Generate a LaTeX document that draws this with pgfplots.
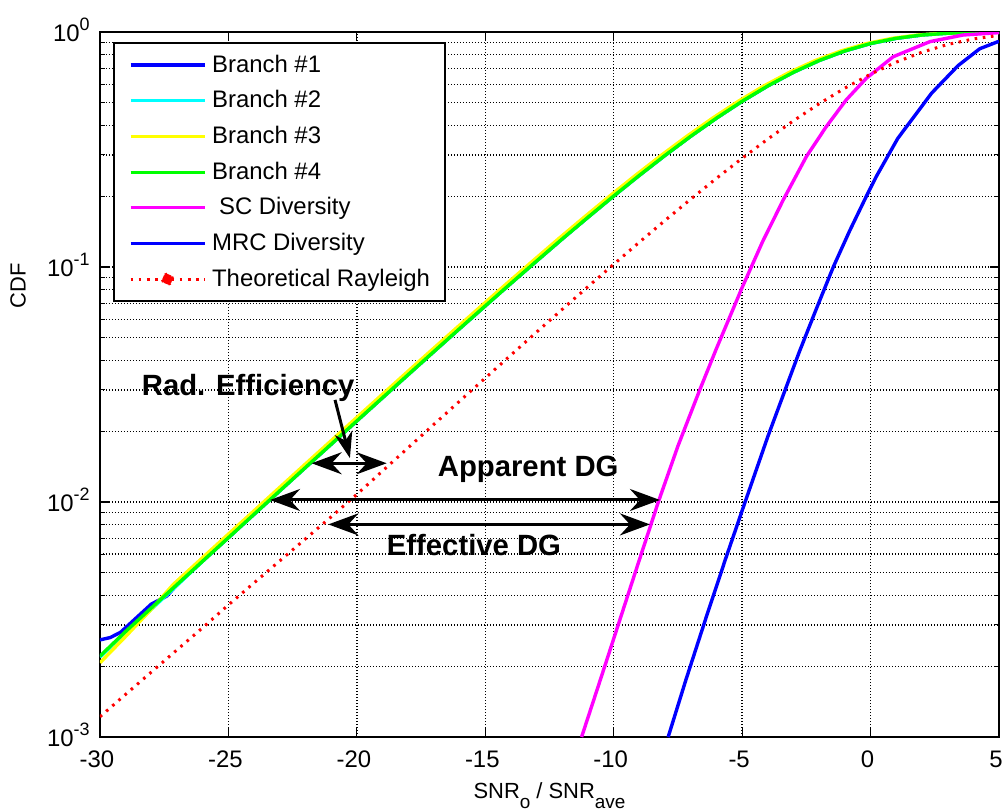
\documentclass[border=0pt]{standalone}
\usepackage{fontspec}
\setmainfont{Liberation Sans}
\usepackage{pgfplots}
\pgfplotsset{compat=1.18}
\usetikzlibrary{arrows.meta}
\definecolor{mblue}{RGB}{0,0,255}
\definecolor{mcyan}{RGB}{0,255,255}
\definecolor{myellow}{RGB}{255,255,0}
\definecolor{mgreen}{RGB}{0,255,0}
\definecolor{mmag}{RGB}{255,0,255}
\definecolor{mred}{RGB}{255,0,0}
\newcommand{\tenexp}[1]{10\raisebox{5.5bp}{\fontsize{9}{9}\selectfont #1}}
\tikzset{dgarrow/.style={line width=1.5bp, black, {Stealth[length=15bp,width=11bp,inset=5bp]}-{Stealth[length=15bp,width=11bp,inset=5bp]}}}
\begin{document}
\begin{tikzpicture}[font=\fontsize{12}{14}\selectfont]
\useasboundingbox (-50bp,-36.5bp) rectangle (452bp,368.5bp);
\begin{axis}[
  at={(0,0)}, anchor=south west,
  scale only axis, width=449.5bp, height=352.5bp,
  ymode=log, xmin=-30, xmax=5, ymin=1e-3, ymax=1,
  xtick={-30,-25,-20,-15,-10,-5,0,5},
  xticklabels={-30,-25,-20,-15,-10,-5,0,5},
  ytick={0.001,0.01,0.1,1},
  yticklabels={{\tenexp{-3}},{\tenexp{-2}},{\tenexp{-1}},{\tenexp{0}}},
  minor ytick={0.002,0.003,0.004,0.005,0.006,0.007,0.008,0.009,0.02,0.03,0.04,0.05,0.06,0.07,0.08,0.09,0.2,0.3,0.4,0.5,0.6,0.7,0.8,0.9},
  grid=both,
  major grid style={black, line width=0.65bp, dash pattern=on 0.7bp off 0.8bp},
  minor grid style={black, line width=0.65bp, dash pattern=on 0.7bp off 0.8bp},
  axis line style={black, line width=1bp},
  tick style={black, line width=0.6bp},
  tick align=inside, xtick pos=both, ytick pos=both,
  xticklabel pos=lower, yticklabel pos=left,
  major tick length=4.5bp, minor tick length=2.5bp,
  xticklabel style={anchor=base, inner sep=0pt, yshift=-15bp, xshift=-1.5bp, font=\fontsize{12}{14}\selectfont},
  yticklabel style={anchor=base east, inner sep=0pt, xshift=-5bp, yshift=-4.8bp, font=\fontsize{12}{14}\selectfont},
  xlabel={SNR\raisebox{-5bp}{\fontsize{9.5}{10}\selectfont o} / SNR\raisebox{-5bp}{\fontsize{9.5}{10}\selectfont ave}},
  xlabel style={at={(axis description cs:0.5,-0.0879)}, anchor=base, inner sep=0pt, font=\fontsize{11}{13}\selectfont},
  ylabel={CDF},
  ylabel style={at={(axis description cs:-0.0912,0.64)}, anchor=center, inner sep=0pt, font=\fontsize{11}{13}\selectfont},
  legend style={at={(axis description cs:0.01446,0.9858)}, anchor=north west, draw=black, line width=0.9bp, fill=white,
    inner xsep=7.5bp, inner ysep=4bp, font=\fontsize{12}{14}\selectfont, row sep=3.7bp, column sep=3bp,
    nodes={inner xsep=0pt}},
  legend cell align=left,
  legend image code/.code={\draw[#1, line width=1.6bp] (0bp,0bp) -- (37bp,0bp);},
  every axis plot/.append style={line width=1.7bp},
]
% Branch #1
\addplot[mblue] coordinates {(-30,0.00259) (-29.6,0.00265) (-29.2,0.00279) (-28.8,0.00306) (-28.0,0.00368) (-27.4,0.00398) (-27,0.00445) (-26,0.00561) (-25,0.007054) (-24,0.008873) (-23,0.01116) (-22,0.01403) (-21,0.01762) (-20,0.02214) (-19,0.02779) (-18,0.03486) (-17,0.04369) (-16,0.05468) (-15,0.06834) (-14,0.08527) (-13,0.1061) (-12,0.1318) (-11,0.1629) (-10,0.2006) (-9,0.2456) (-8,0.2987) (-7,0.3602) (-6,0.4301) (-5,0.5073) (-4,0.5899) (-3,0.6744) (-2,0.7566) (-1,0.8310) (0,0.8935) (1,0.9403) (2,0.9712) (3,0.9885) (4,0.9964) (5,0.99916)};
\addlegendentry{Branch \#1}
% Branch #2
\addplot[mcyan] coordinates {(-30,0.00219) (-29,0.00277) (-28,0.00350) (-27,0.00442) (-26,0.005607) (-25,0.007054) (-24,0.008873) (-23,0.01116) (-22,0.01403) (-21,0.01762) (-20,0.02214) (-19,0.02779) (-18,0.03486) (-17,0.04369) (-16,0.05468) (-15,0.06834) (-14,0.08527) (-13,0.1061) (-12,0.1318) (-11,0.1629) (-10,0.2006) (-9,0.2456) (-8,0.2987) (-7,0.3602) (-6,0.4301) (-5,0.5073) (-4,0.5899) (-3,0.6744) (-2,0.7566) (-1,0.8310) (0,0.8935) (1,0.9403) (2,0.9712) (3,0.9885) (4,0.9964) (5,0.99916)};
\addlegendentry{Branch \#2}
% Branch #3
\addplot[myellow] coordinates {(-30,0.00207) (-29,0.00268) (-28,0.00350) (-27.15,0.004457) (-26.15,0.005607) (-25.15,0.007054) (-24.15,0.008873) (-23.15,0.01116) (-22.15,0.01403) (-21.15,0.01762) (-20.15,0.02214) (-19.15,0.02779) (-18.15,0.03486) (-17.15,0.04369) (-16.15,0.05468) (-15.15,0.06834) (-14.15,0.08527) (-13.15,0.1061) (-12.15,0.1318) (-11.15,0.1629) (-10.15,0.2006) (-9.15,0.2456) (-8.15,0.2987) (-7.15,0.3602) (-6.15,0.4301) (-5.15,0.5073) (-4.15,0.5899) (-3.15,0.6744) (-2.15,0.7566) (-1.15,0.8310) (-0.15,0.8935) (0.85,0.9403) (1.85,0.9712) (2.85,0.9885) (3.85,0.9964) (5,0.99925)};
\addlegendentry{Branch \#3}
% Branch #4
\addplot[mgreen] coordinates {(-30,0.00221) (-29,0.002814) (-28,0.003542) (-27,0.004457) (-26,0.005607) (-25,0.007054) (-24,0.008873) (-23,0.01116) (-22,0.01403) (-21,0.01762) (-20,0.02214) (-19,0.02779) (-18,0.03486) (-17,0.04369) (-16,0.05468) (-15,0.06834) (-14,0.08527) (-13,0.1061) (-12,0.1318) (-11,0.1629) (-10,0.2006) (-9,0.2456) (-8,0.2987) (-7,0.3602) (-6,0.4301) (-5,0.5073) (-4,0.5899) (-3,0.6744) (-2,0.7566) (-1,0.8310) (0,0.8935) (1,0.9403) (2,0.9712) (3,0.9885) (4,0.9964) (5,0.99916)};
\addlegendentry{Branch \#4}
% SC diversity
\addplot[mmag] coordinates {(-11.25,0.00100) (-10.5,0.00178) (-9.75,0.00318) (-9.0,0.00568) (-8.25,0.0101) (-7.5,0.0173) (-6.64,0.0302) (-6.0,0.045) (-5.0,0.0818) (-4.2,0.1285) (-3.4,0.193) (-2.5,0.295) (-1.73,0.395) (-0.95,0.514) (-0.17,0.635) (0.88,0.785) (2.31,0.91) (3.6,0.971) (5.0,0.994)};
\addlegendentry{\hspace{3.5bp}SC Diversity}
% MRC diversity
\addplot[mblue] coordinates {(-7.88,0.00100) (-7.19,0.00175) (-6.35,0.00336) (-5.64,0.00575) (-4.885,0.0100) (-4.0,0.01899) (-2.79,0.0431) (-2.13,0.0656) (-1.44,0.1007) (-0.81,0.1429) (-0.16,0.2004) (0.22,0.2424) (1.06,0.3528) (2.38,0.55) (3.41,0.72) (4.25,0.8488) (4.96,0.9100) (5.0,0.912)};
\addlegendentry{MRC Diversity}
% Theoretical Rayleigh
\addplot[mred, line width=1.5bp, dash pattern=on 1.3bp off 2.8bp,
  legend image code/.code={\draw[mred, line width=1.5bp, dash pattern=on 1.3bp off 2.8bp] (0bp,0bp) -- (37bp,0bp); \fill[mred] (18.5bp,0bp) circle (2.6bp);}]
  coordinates {(-30,0.00122) (-29,0.00152) (-28,0.00189) (-27,0.00235) (-26,0.00292) (-25,0.00365) (-24,0.00453) (-23,0.00562) (-22,0.00697) (-21,0.00865) (-20,0.01078) (-19,0.01356) (-18,0.01703) (-17,0.0214) (-16,0.02686) (-15,0.0337) (-14,0.04223) (-13,0.05288) (-12,0.06611) (-11,0.0825) (-10,0.1027) (-9,0.1276) (-8,0.1579) (-7,0.1945) (-6,0.2384) (-5,0.2902) (-4,0.3505) (-3,0.4192) (-2,0.4954) (-1,0.5773) (0,0.6618) (1,0.7446) (2,0.8206) (3,0.8850) (4,0.9343) (5,0.9676)};
\addlegendentry{Theoretical Rayleigh}
% annotations
\draw[dgarrow] (axis cs:-21.76,0.01462) -- (axis cs:-18.84,0.01462);
\draw[line width=1.5bp, black, -{Stealth[length=13bp,width=9bp,inset=4bp]}] (axis cs:-20.85,0.0272) -- (axis cs:-20.27,0.01538);
\draw[dgarrow] (axis cs:-23.38,0.0102) -- (axis cs:-8.2,0.0102);
\draw[dgarrow] (axis cs:-21.11,0.00803) -- (axis cs:-8.59,0.00803);
\node[anchor=base, inner sep=0pt, font=\bfseries\fontsize{14.7}{16}\selectfont] at (axis cs:-24.23,0.0285) {Rad. Efficiency};
\node[anchor=base, inner sep=0pt, font=\bfseries\fontsize{14.7}{16}\selectfont] at (axis cs:-13.33,0.01282) {Apparent DG};
\node[anchor=base, inner sep=0pt, font=\bfseries\fontsize{14.7}{16}\selectfont] at (axis cs:-15.44,0.005947) {Effective DG};
\end{axis}
\end{tikzpicture}
\end{document}
